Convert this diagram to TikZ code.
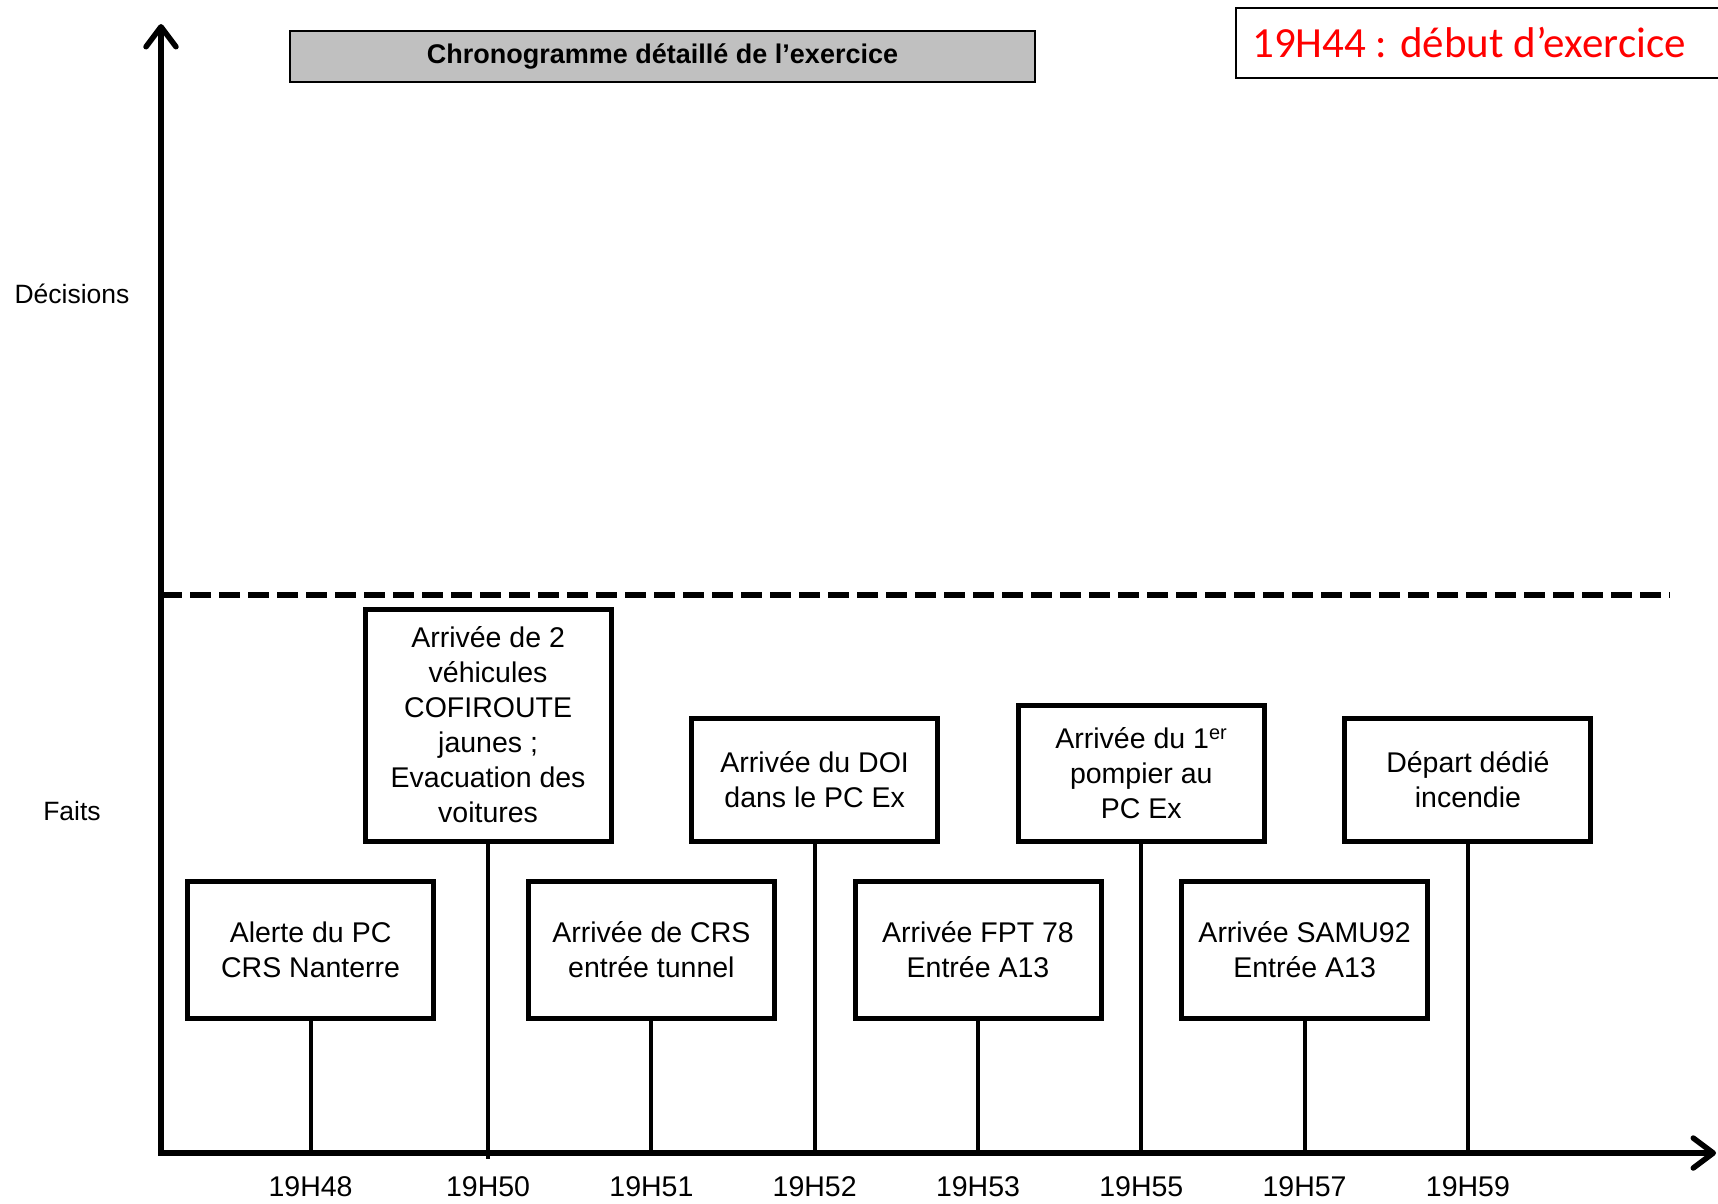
\documentclass[tikz,border=0pt]{standalone}
\usepackage{fontspec}
\setmainfont{Liberation Sans}
\newfontfamily\calibrifont{Carlito}
\usetikzlibrary{arrows.meta}
\definecolor{titlegray}{RGB}{192,192,192}
\definecolor{startred}{RGB}{255,0,0}

\begin{document}
\begin{tikzpicture}[x=1pt,y=-1pt,
  barb/.tip={Straight Barb[length=20pt,width=30pt,round]},
  axisline/.style={line width=5.5pt,line join=miter,barb-barb},
  event/.style={draw,line width=5pt,minimum width=246pt,inner sep=0pt,
    align=center,font=\fontsize{28.5}{35}\selectfont},
  stem/.style={line width=4pt},
  tick/.style={font=\fontsize{28.5}{33}\selectfont},
  side/.style={font=\fontsize{26.5}{31}\selectfont},
  separator/.style={line width=6pt,dash pattern=on 21pt off 8pt}
]
\useasboundingbox (0,0) rectangle (1718,1203);

% axes
\coordinate (O) at (161,1153);
\coordinate (ytop) at (161,24);
\coordinate (xend) at (1716,1153);
\draw[axisline] (ytop) -- (O) -- (xend);

% separation between decisions and facts
\coordinate (sepA) at (161,595);
\coordinate (sepB) at (1670,595);
\draw[separator] (sepA) -- (sepB);

% side labels
\node[side] (dec) at (72,294) {Décisions};
\node[side] (faits) at (72,811) {Faits};

% title
\node[draw,line width=2pt,fill=titlegray,minimum width=745pt,minimum height=51pt,
  inner sep=0pt,font=\bfseries\fontsize{27}{32}\selectfont] (title) at (662.5,56.5)
  {Chronogramme détaillé de l’exercice};

% start of exercise: frame running off the right edge, red text inside
\draw[line width=2pt] (1236,8) rectangle (1728,78);
\node[anchor=west,inner sep=0pt,text=startred,
  font=\calibrifont\fontsize{43}{51}\selectfont] (start) at (1252,43)
  {19H44 : début d’exercice};

% events
\node[event,minimum height=137pt] (e1) at (310.6,949.5) {Alerte du PC\\CRS Nanterre};
\node[event,minimum height=232pt] (e2) at (488.1,725) {Arrivée de 2\\véhicules\\COFIROUTE\\jaunes ;\\Evacuation des\\voitures};
\node[event,minimum height=137pt] (e3) at (651.4,949.5) {Arrivée de CRS\\entrée tunnel};
\node[event,minimum height=123pt] (e4) at (814.7,779.5) {Arrivée du DOI\\dans le PC Ex};
\node[event,minimum height=137pt] (e5) at (978,949.5) {Arrivée FPT 78\\Entrée A13};
\node[event,minimum height=136pt] (e6) at (1141.3,773) {Arrivée du 1\textsuperscript{er}\\pompier au\\PC Ex};
\node[event,minimum height=137pt] (e7) at (1304.6,949.5) {Arrivée SAMU92\\Entrée A13};
\node[event,minimum height=123pt] (e8) at (1467.9,779.5) {Départ dédié\\incendie};

% stems down to the time axis
\foreach \e in {e1,e3,e4,e5,e6,e7,e8}
  \draw[stem] (\e.south) -- (\e.south |- O);
\draw[stem,shorten >=-6pt] (e2.south) -- (e2.south |- O);

% times
\node[tick] (t1) at (310.6,1187) {19H48};
\node[tick] (t2) at (488.1,1187) {19H50};
\node[tick] (t3) at (651.4,1187) {19H51};
\node[tick] (t4) at (814.7,1187) {19H52};
\node[tick] (t5) at (978,1187) {19H53};
\node[tick] (t6) at (1141.3,1187) {19H55};
\node[tick] (t7) at (1304.6,1187) {19H57};
\node[tick] (t8) at (1467.9,1187) {19H59};
\end{tikzpicture}
\end{document}
